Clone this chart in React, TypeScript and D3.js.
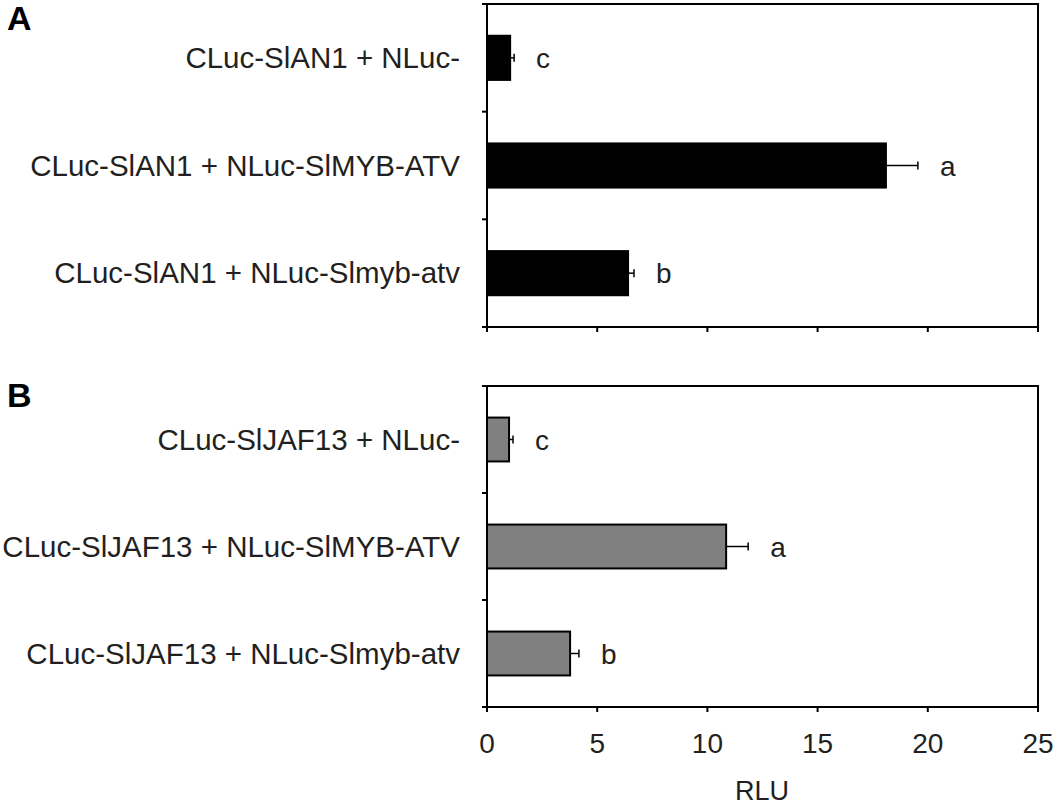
import React from "react";
import * as d3 from "d3";

const categoriesA = ["CLuc-SlAN1 + NLuc-", "CLuc-SlAN1 + NLuc-SlMYB-ATV", "CLuc-SlAN1 + NLuc-Slmyb-atv"];
const valuesA = [1.05, 18.1, 6.4];
const errorsA = [0.18, 1.45, 0.27];
const lettersA = ["c", "a", "b"];

const categoriesB = ["CLuc-SlJAF13 + NLuc-", "CLuc-SlJAF13 + NLuc-SlMYB-ATV", "CLuc-SlJAF13 + NLuc-Slmyb-atv"];
const valuesB = [1.0, 10.85, 3.77];
const errorsB = [0.18, 1.0, 0.4];
const lettersB = ["c", "a", "b"];

const xTicks = [0, 5, 10, 15, 20, 25];
const panelLabels = ["A", "B"];

const FONT = "Liberation Sans, Arial, sans-serif";
const TEXT = "#231f20";

const x = d3.scaleLinear().domain([0, 25]).range([487, 1038]);

function Panel({ top, bottom, cats, vals, errs, letters, fill, label, labelY, showTickLabels }: any) {
  const y = d3.scaleBand().domain(cats).range([top, bottom]).paddingInner(0.59).paddingOuter(0.295);
  const boundaries = d3.range(cats.length + 1).map((i) => top + (i * (bottom - top)) / cats.length);
  return (
    <g>
      <text x={7} y={labelY} fontFamily={FONT} fontWeight="bold" fontSize={34} fill="#000">{label}</text>
      <rect x={x(0)} y={top} width={x(25) - x(0)} height={bottom - top} fill="none" stroke="#000" strokeWidth={2} />
      {boundaries.map((b, i) => (
        <line key={"yt" + i} x1={x(0) - 5} x2={x(0)} y1={b} y2={b} stroke="#000" strokeWidth={2} />
      ))}
      {xTicks.map((t) => (
        <line key={"xt" + t} x1={x(t)} x2={x(t)} y1={bottom} y2={bottom + 5} stroke="#000" strokeWidth={2} />
      ))}
      {showTickLabels && xTicks.map((t) => (
        <text key={"xl" + t} x={x(t)} y={753} textAnchor="middle" fontFamily={FONT} fontSize={28} fill={TEXT}>{t}</text>
      ))}
      {cats.map((c: string, i: number) => {
        const by = y(c)!;
        const bh = y.bandwidth();
        const cy = by + bh / 2;
        const xe = x(vals[i] + errs[i]);
        return (
          <g key={c}>
            <rect x={x(0)} y={by} width={x(vals[i]) - x(0)} height={bh} fill={fill} stroke="#000" strokeWidth={2} />
            <line x1={x(vals[i])} x2={xe} y1={cy} y2={cy} stroke="#000" strokeWidth={1.5} />
            <line x1={xe} x2={xe} y1={cy - 4} y2={cy + 4} stroke="#000" strokeWidth={1.5} />
            <text x={xe + 22} y={cy + 10} fontFamily={FONT} fontSize={28} fill={TEXT}>{letters[i]}</text>
            <text x={460} y={cy + 10} textAnchor="end" fontFamily={FONT} fontSize={29.5} fill={TEXT}>{c}</text>
          </g>
        );
      })}
    </g>
  );
}

export default function App() {
  return (
    <svg width={1054} height={806} style={{ position: "absolute", left: 0, top: 0, background: "#fff" }}>
      <rect width={1054} height={806} fill="#fff" />
      <Panel top={4} bottom={327} cats={categoriesA} vals={valuesA} errs={errorsA} letters={lettersA} fill="#000" label={panelLabels[0]} labelY={30} showTickLabels={false} />
      <Panel top={386} bottom={707} cats={categoriesB} vals={valuesB} errs={errorsB} letters={lettersB} fill="#808080" label={panelLabels[1]} labelY={407} showTickLabels={true} />
      <text x={762} y={800} textAnchor="middle" fontFamily={FONT} fontSize={27} fill={TEXT}>RLU</text>
    </svg>
  );
}
